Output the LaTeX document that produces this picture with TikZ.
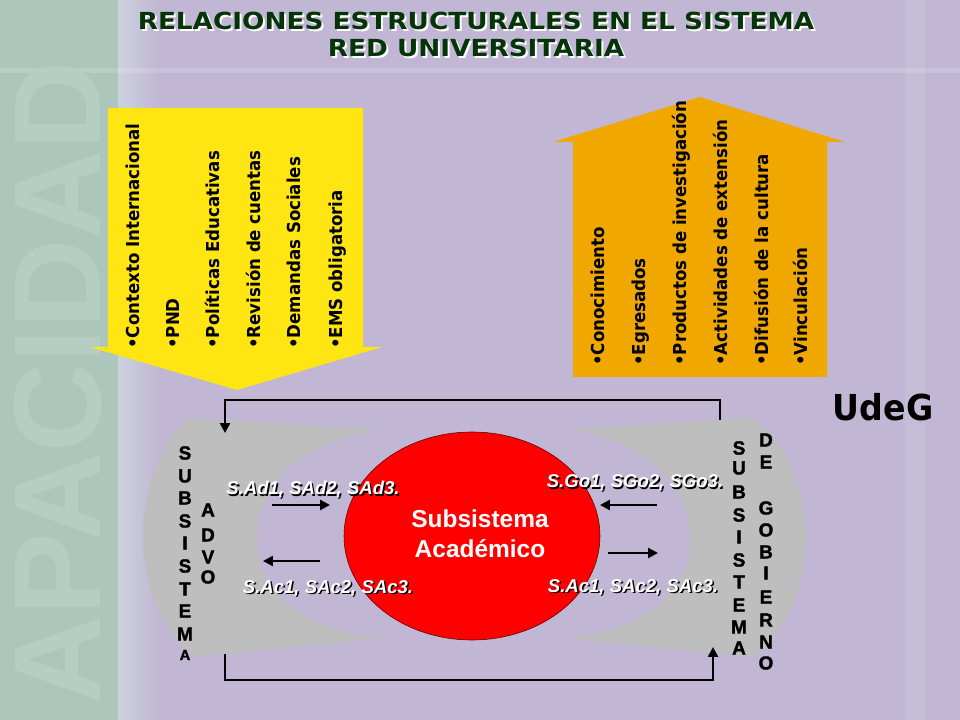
\documentclass[tikz,border=0pt]{standalone}
\usepackage{fontspec}
\setmainfont{Liberation Sans}
\newfontfamily\tahoma[FakeStretch=0.93]{DejaVu Sans}
\newfontfamily\titulo[FakeStretch=1.12]{DejaVu Sans}
\newfontfamily\negra[FakeBold=1.5]{Liberation Sans}
\usetikzlibrary{arrows.meta}
\usetikzlibrary{positioning}

\definecolor{lila}{RGB}{193,183,212}
\definecolor{verdoso}{RGB}{172,198,188}
\definecolor{banda}{RGB}{204,210,222}
\definecolor{marca}{RGB}{181,205,194}
\definecolor{amarillo}{RGB}{255,229,18}
\definecolor{naranja}{RGB}{240,168,0}
\definecolor{gris}{RGB}{190,190,190}
\definecolor{verdetit}{RGB}{4,52,8}
\definecolor{rojo}{RGB}{255,0,0}

\tikzset{
    titulotxt/.style={inner sep=0pt, font=\titulo\bfseries\fontsize{16.7}{20}\selectfont},
    lista/.style={rotate=90, anchor=base west, inner sep=0pt, font=\tahoma\bfseries\fontsize{12.7}{14}\selectfont},
    letra/.style={inner sep=0pt, font=\negra\bfseries\fontsize{13.5}{14}\selectfont},
    etiq/.style={anchor=base, inner sep=0pt, font=\bfseries\itshape\fontsize{13.2}{15}\selectfont},
    flecha/.style={line width=2.1pt, -{Triangle[length=7pt,width=7pt]}},
    lazo/.style={line width=2.1pt, -{Triangle[length=7pt,width=7pt]}}
}

\begin{document}
\begin{tikzpicture}[x=0.025cm, y=-0.025cm]
        \useasboundingbox (0,0) rectangle (960,720);

        \fill[lila] (0,0) rectangle (960,720);
        \fill[verdoso] (0,0) rectangle (118,720);
        \shade[left color=banda, right color=lila] (118,0) rectangle (158,720);
        \fill[white, opacity=0.14] (0,68) rectangle (960,73);
        \fill[white, opacity=0.08] (905,0) rectangle (925,720);
        \node[rotate=90, anchor=base west, inner sep=0pt, text=marca, font=\bfseries\fontsize{88}{88}\selectfont] (marcaagua) at (100,705) {APACIDAD};

        \node[titulotxt, text=white] (tit1s) at (478,22.5) {RELACIONES ESTRUCTURALES EN EL SISTEMA};
        \node[titulotxt, text=verdetit] (tit1) at (476,20.5) {RELACIONES ESTRUCTURALES EN EL SISTEMA};
        \node[titulotxt, text=white] (tit2s) at (478,49.5) {RED UNIVERSITARIA};
        \node[titulotxt, text=verdetit] (tit2) at (476,47.5) {RED UNIVERSITARIA};

        \fill[amarillo] (108,108) -- (363,108) -- (363,347) -- (382,347) -- (237,390) -- (90,347) -- (108,347) -- cycle;
        \fill[naranja] (573,377) -- (573,142) -- (553,142) -- (700,97) -- (845,142) -- (827,142) -- (827,377) -- cycle;

        \node[lista] (ctx) at (139,349) {•Contexto Internacional};
        \node[lista] (pnd) at (179,349) {•PND};
        \node[lista] (pol) at (219,349) {•Políticas Educativas};
        \node[lista] (rev) at (260,349) {•Revisión de cuentas};
        \node[lista] (dem) at (300,349) {•Demandas Sociales};
        \node[lista] (ems) at (342,349) {•EMS obligatoria};

        \node[lista] (con) at (604,366) {•Conocimiento};
        \node[lista] (egr) at (645,366) {•Egresados};
        \node[lista] (pro) at (686,366) {•Productos de investigación};
        \node[lista] (act) at (727,366) {•Actividades de extensión};
        \node[lista] (dif) at (768,366) {•Difusión de la cultura};
        \node[lista] (vin) at (807,366) {•Vinculación};

        \node[anchor=base, inner sep=0pt, font=\tahoma\bfseries\fontsize{25.4}{28}\selectfont] (udeg) at (883,421) {UdeG};

        \fill[gris] (380,430) -- (190,418) .. controls (160,440) and (143,490) .. (143,537) .. controls (143,590) and (165,635) .. (193,657) -- (380,638) .. controls (300,630) and (257,590) .. (257,540) .. controls (257,485) and (300,440) .. (380,430) -- cycle;
        \fill[gris] (568,430) -- (752,418) .. controls (785,440) and (806,490) .. (806,537) .. controls (806,590) and (783,635) .. (752,657) -- (568,638) .. controls (648,630) and (690,590) .. (690,540) .. controls (690,485) and (648,440) .. (568,430) -- cycle;

        \filldraw[fill=rojo, draw=black!60!red, thin] (472,536) ellipse [x radius=128, y radius=104];
        \node[align=center, inner sep=0pt, text=white, font=\bfseries\fontsize{17.4}{21}\selectfont] (acad) at (480,534) {Subsistema\\Académico};

        \node[etiq, text=black] (adS) at (314.5,496.5) {S.Ad1, SAd2, SAd3.};
        \node[etiq, text=white] (ad) at (313,495) {S.Ad1, SAd2, SAd3.};
        \node[etiq, text=black] (acIS) at (329.5,594.5) {S.Ac1, SAc2, SAc3.};
        \node[etiq, text=white] (acI) at (328,593) {S.Ac1, SAc2, SAc3.};
        \node[etiq, text=black] (goS) at (636.5,489.5) {S.Go1, SGo2, SGo3.};
        \node[etiq, text=white] (go) at (635,488) {S.Go1, SGo2, SGo3.};
        \node[etiq, text=black] (acDS) at (634.5,593.5) {S.Ac1, SAc2, SAc3.};
        \node[etiq, text=white] (acD) at (633,592) {S.Ac1, SAc2, SAc3.};

        \coordinate (a1) at (272,505);
        \coordinate (a2) at (330,505);
        \coordinate (a3) at (320,561);
        \coordinate (a4) at (263,561);
        \coordinate (a5) at (657,505);
        \coordinate (a6) at (600,505);
        \coordinate (a7) at (608,553);
        \coordinate (a8) at (658,553);
        \draw[flecha] (a1) -- (a2);
        \draw[flecha] (a3) -- (a4);
        \draw[flecha] (a5) -- (a6);
        \draw[flecha] (a7) -- (a8);

        \coordinate (goTop) at (720,420);
        \coordinate (esqA) at (720,400);
        \coordinate (adTop) at (225,433);
        \coordinate (adBot) at (225,654);
        \coordinate (esqB) at (225,680);
        \coordinate (goBot) at (713,647);
        \draw[lazo] (goTop) -- (esqA) -| (adTop);
        \draw[lazo] (adBot) -- (esqB) -| (goBot);

        \foreach \l/\y [count=\i] in {S/453,U/476,B/498,S/521,I/543,S/566,T/589,E/611,M/634}
            \node[letra] (sa\i) at (185,\y) {\l};
        \node[letra, font=\negra\bfseries\fontsize{10.5}{11}\selectfont] (sa10) at (185,655) {A};
        \foreach \l/\y [count=\i] in {A/510,D/535,V/557,O/577}
            \node[letra] (advo\i) at (208,\y) {\l};
        \foreach \l/\y [count=\i] in {S/448,U/468,B/492,S/515,I/537,S/560,T/582,E/605,M/627,A/648}
            \node[letra] (sg\i) at (739,\y) {\l};
        \foreach \l/\y [count=\i] in {D/440,E/462,G/508,O/530,B/552,I/573,E/597,R/620,N/642,O/663}
            \node[letra] (gob\i) at (766,\y) {\l};
    \end{tikzpicture}
\end{document}
